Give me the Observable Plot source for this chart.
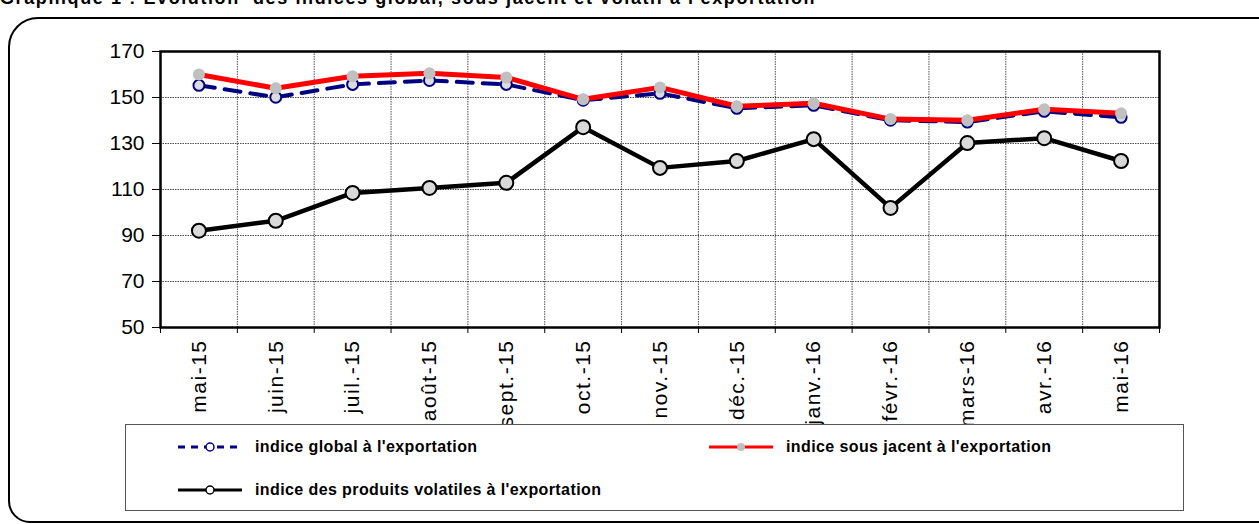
<!DOCTYPE html>
<html>
<head>
<meta charset="utf-8">
<script src="https://cdn.jsdelivr.net/npm/d3@7"></script>
<script src="https://cdn.jsdelivr.net/npm/@observablehq/plot@0.6"></script>
<style>
  html, body { margin: 0; padding: 0; background: #fff; }
  #wrap { position: relative; width: 1259px; height: 524px; overflow: hidden; font-family: Arial, "Liberation Sans", sans-serif; }
  #title { position: absolute; left: 0; top: -12px; font: bold 18px Arial, "Liberation Sans", sans-serif; letter-spacing: 1.6px; white-space: pre; color: #000; }
  #frame { position: absolute; left: 8px; top: 17px; width: 1260px; height: 502px; border: 2px solid #000; border-radius: 30px 0 0 22px; }
  #chart { position: absolute; left: 0; top: 0; }
  #legend { position: absolute; left: 125px; top: 424px; width: 1057px; height: 85px; border: 1px solid #555; background: #fff; }
  .item { position: absolute; display: flex; align-items: center; font: bold 16px Arial, "Liberation Sans", sans-serif; letter-spacing: 0.4px; color: #000; white-space: nowrap; }
  .item svg { margin-right: 12px; }
  .xlab text { letter-spacing: 1.5px; }
</style>
</head>
<body>
<div id="wrap">
  <div id="title">Graphique 1 : Evolution  des indices global, sous jacent et volatil à l'exportation</div>
  <div id="frame"></div>
  <div id="chart"></div>
  <div id="legend"></div>
</div>
<script>
const months = ["mai-15","juin-15","juil.-15","août-15","sept.-15","oct.-15","nov.-15","déc.-15","janv.-16","févr.-16","mars-16","avr.-16","mai-16"];
const indiceGlobal   = [155.3,150.1,155.7,157.4,155.7,148.8,151.8,145.3,146.6,140.1,139.3,144.0,141.4];
const indiceSousJacent = [160.0,154.0,159.2,160.5,158.7,149.2,154.4,146.2,147.5,140.6,140.1,144.9,143.2];
const indiceVolatil  = [92.1,96.4,108.5,110.7,112.9,137.1,119.4,122.4,131.9,102.0,130.2,132.3,122.4];
const yTicks = [50,70,90,110,130,150,170];
const seriesNames = ["indice global à l'exportation","indice sous jacent à l'exportation","indice des produits volatiles à l'exportation"];

const rows = (vals) => vals.map((v, i) => ({i: i + 0.5, v}));
const dGlobal = rows(indiceGlobal), dSous = rows(indiceSousJacent), dVol = rows(indiceVolatil);

const W = 1259, H = 440;
const chart = Plot.plot({
  width: W, height: H,
  marginLeft: 160, marginRight: 100, marginTop: 51, marginBottom: H - 327,
  style: {fontFamily: "Arial, 'Liberation Sans', sans-serif", color: "#000", background: "transparent"},
  x: {type: "linear", domain: [0, 13]},
  y: {domain: [50, 170]},
  marks: [
    Plot.gridY(yTicks.slice(1, -1), {stroke: "#000", strokeOpacity: 0.7, strokeDasharray: "1.5,1", strokeWidth: 1}),
    Plot.gridX(d3.range(1, 13), {stroke: "#000", strokeOpacity: 0.7, strokeDasharray: "1.5,1", strokeWidth: 1}),
    Plot.axisY(yTicks, {tickSize: 8, tickPadding: 8, fontSize: 21, label: null, stroke: "#000"}),
    Plot.axisX(d3.range(0, 14), {tickSize: 6, tickFormat: () => "", label: null, stroke: "#000"}),
    Plot.axisX(months.map((m, i) => i + 0.5), {tickSize: 0, tickPadding: 12, tickRotate: -90, fontSize: 21, label: null, className: "xlab", tickFormat: (d) => months[Math.round(d - 0.5)]}),
    Plot.line(dGlobal, {x: "i", y: "v", stroke: "#000080", strokeWidth: 4, strokeDasharray: "16,10"}),
    Plot.dot(dGlobal, {x: "i", y: "v", r: 5.5, fill: "#dcdcdc", stroke: "#000080", strokeWidth: 2}),
    Plot.line(dSous, {x: "i", y: "v", stroke: "#ff0000", strokeWidth: 5}),
    Plot.dot(dSous, {x: "i", y: "v", r: 6, fill: "#c0c0c0", stroke: "none"}),
    Plot.line(dVol, {x: "i", y: "v", stroke: "#000", strokeWidth: 4.5}),
    Plot.dot(dVol, {x: "i", y: "v", r: 7, fill: "#d9d9d9", stroke: "#000", strokeWidth: 2}),
    Plot.frame({stroke: "#000", strokeWidth: 2.5})
  ]
});
document.getElementById("chart").appendChild(chart);

// Legend
const legend = document.getElementById("legend");
const legendDefs = [
  {name: seriesNames[0], stroke: "#000080", dash: "7,6", mfill: "#fff", mstroke: "#000080", left: 51, top: 22},
  {name: seriesNames[1], stroke: "#ff0000", dash: null, mfill: "#c0c0c0", mstroke: "none", left: 582, top: 22},
  {name: seriesNames[2], stroke: "#000", dash: null, mfill: "#fff", mstroke: "#000", left: 51, top: 65}
];
for (const d of legendDefs) {
  const el = document.createElement("div");
  el.className = "item";
  el.style.left = d.left + "px";
  el.style.top = (d.top - 10) + "px";
  el.style.height = "20px";
  el.innerHTML = `<svg width="66" height="14"><line x1="1" x2="65" y1="7" y2="7" stroke="${d.stroke}" stroke-width="3" ${d.dash ? `stroke-dasharray="${d.dash}"` : ""}/><circle cx="33" cy="7" r="4" fill="${d.mfill}" stroke="${d.mstroke}" stroke-width="1.5"/></svg><span>${d.name}</span>`;
  legend.appendChild(el);
}
</script>
</body>
</html>
